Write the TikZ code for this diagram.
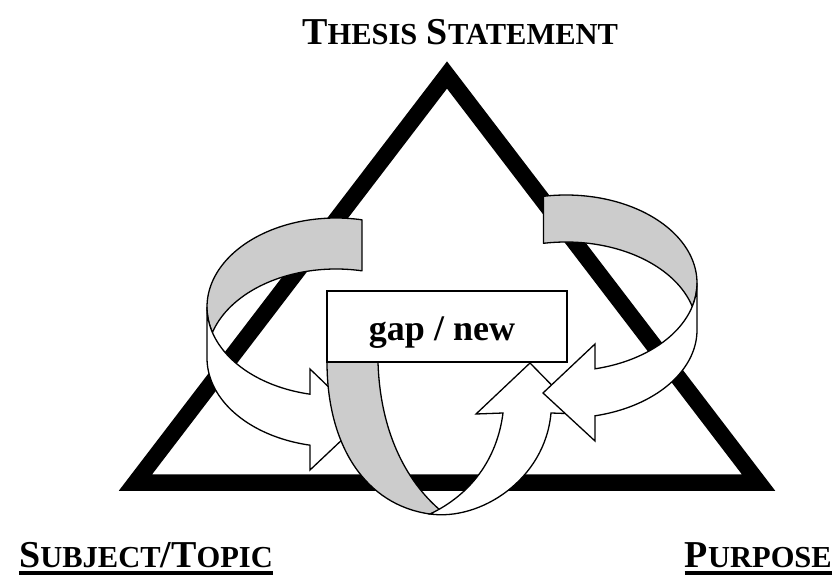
\documentclass[tikz,border=0pt]{standalone}
\usepackage{fontspec}
\setmainfont{Liberation Serif}
\usetikzlibrary{calc}
\definecolor{ribbonback}{RGB}{204,204,204}
\newcommand\BigCap[1]{{\fontsize{38}{38}\selectfont #1}}
\newcommand\SmallCap[1]{{\fontsize{30.5}{31}\selectfont #1}}
\begin{document}
\begin{tikzpicture}[x=1pt,y=-1pt,
  backface/.style={fill=ribbonback,draw=black,line width=1.3pt,line join=round},
  frontface/.style={fill=white,draw=black,line width=1.3pt,line join=miter},
  label/.style={inner sep=0pt,font=\bfseries\fontsize{38}{38}\selectfont},
  underbar/.style={line width=3.5pt}]
\useasboundingbox (0,0) rectangle (836,578);

% the triangle
\draw[line width=16.5pt,line join=miter,miter limit=10]
  (447,75) -- (135.5,482.5) -- (758.5,482.5) -- cycle;

% left ribbon: inner (back) face
\filldraw[backface]
  plot[domain=281.6:180,samples=60] ({336+129*cos(\x)},{307+89*sin(\x)})
  -- plot[domain=180:163.35,samples=10] ({336+129*cos(\x)},{307+89*sin(\x)})
  -- plot[domain=196.65:281.6,samples=60] ({336+129*cos(\x)},{358+89*sin(\x)})
  -- cycle;
% left ribbon: outer (front) face with its head
\filldraw[frontface]
  plot[domain=180:101.6,samples=60] ({336+129*cos(\x)},{307+89*sin(\x)})
  -- (310,369) -- (363,420) -- (310,470)
  -- plot[domain=101.6:180,samples=60] ({336+129*cos(\x)},{358+89*sin(\x)})
  -- cycle;

% centre ribbon: back face running down from the box
\filldraw[backface]
  (378,362) .. controls (380,430) and (405,480) .. (440,510)
  -- (430,514) .. controls (365,505) and (327,445) .. (327,362) -- cycle;

% the gap box
\node[draw,line width=1.3pt,fill=white,minimum width=240pt,minimum height=71pt,inner sep=0pt]
  (gapbox) at (447,326.5) {};
\node[inner sep=0pt,anchor=base,font=\bfseries\fontsize{36}{36}\selectfont]
  (gaptext) at (442,340) {gap / new};

% centre ribbon: front face rising to the box
\filldraw[frontface]
  (430,514) .. controls (480,521) and (545,480) .. (551,413)
  -- (580,414) -- (530,363) -- (476,414) -- (503,413)
  .. controls (497,460) and (470,495) .. (430,514) -- cycle;

% right ribbon: inner (back) face
\filldraw[backface]
  plot[domain=260.1:360,samples=60] ({566+131*cos(\x)},{283+88*sin(\x)})
  -- plot[domain=0:15.5,samples=10] ({566+131*cos(\x)},{283+88*sin(\x)})
  -- plot[domain=344.5:260.1,samples=60] ({566+131*cos(\x)},{330+88*sin(\x)})
  -- cycle;
% right ribbon: outer (front) face with its head
\filldraw[frontface]
  plot[domain=0:77.2,samples=60] ({566+131*cos(\x)},{283+88*sin(\x)})
  -- (595,344) -- (543,393) -- (595,441)
  -- plot[domain=77.2:0,samples=60] ({566+131*cos(\x)},{330+88*sin(\x)})
  -- cycle;

% corner labels
\node[label,anchor=base west] (thesis) at (302,45)
  {\BigCap{T}\SmallCap{HESIS} \BigCap{S}\SmallCap{TATEMENT}};
\node[label,anchor=base east] (subject) at (273,567)
  {\BigCap{S}\SmallCap{UBJECT}\BigCap{/T}\SmallCap{OPIC}};
\node[label,anchor=base east] (purpose) at (832,567)
  {\BigCap{P}\SmallCap{URPOSE}};
\draw[underbar] ($(subject.base west)+(0,6)$) -- ($(subject.base east)+(0,6)$);
\draw[underbar] ($(purpose.base west)+(0,6)$) -- ($(purpose.base east)+(0,6)$);
\end{tikzpicture}
\end{document}
